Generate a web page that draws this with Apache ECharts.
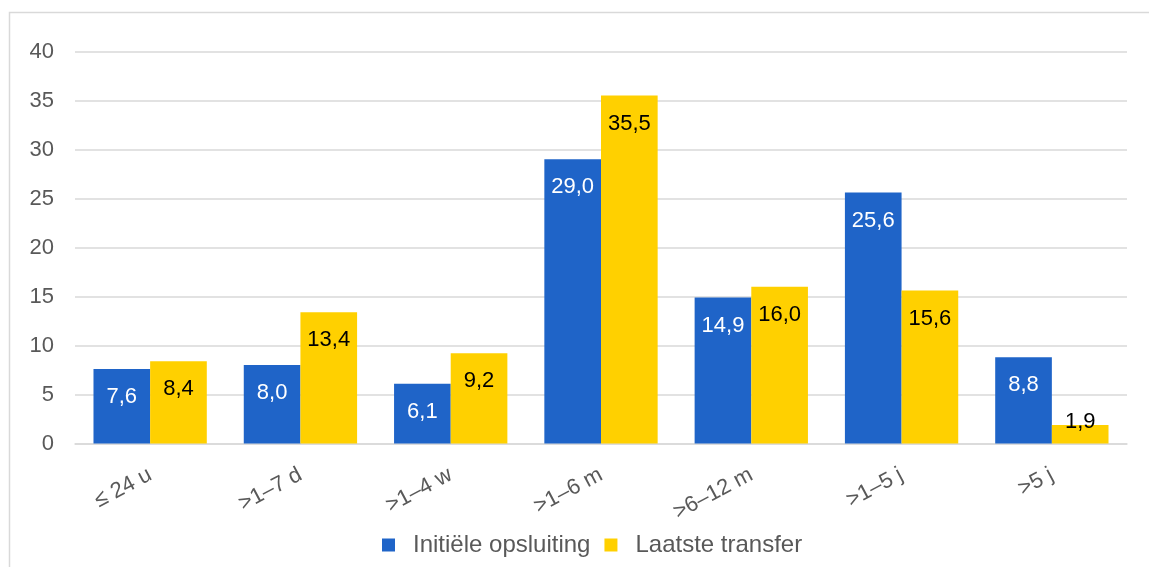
<!DOCTYPE html>
<html>
<head>
<meta charset="utf-8">
<script src="https://cdn.jsdelivr.net/npm/echarts@6/dist/echarts.min.js"></script>
<style>
  html, body { margin: 0; padding: 0; background: #fff; }
  #chart { width: 1149px; height: 567px; }
</style>
</head>
<body>
<div id="chart"></div>
<script>
// Duration categories and shares (%) per series
const categories = ['\u2264 24 u', '>1\u20137 d', '>1\u20134 w', '>1\u20136 m', '>6\u201312 m', '>1\u20135 j', '>5 j'];
const initieleOpsluiting = [7.6, 8.0, 6.1, 29.0, 14.9, 25.6, 8.8];
const laatsteTransfer = [8.4, 13.4, 9.2, 35.5, 16.0, 15.6, 1.9];
const yTicks = [0, 5, 10, 15, 20, 25, 30, 35, 40];

const FONT = 'Liberation Sans, Arial, sans-serif';
const GRAY = '#595959';
const fmt = v => v.toFixed(1).replace('.', ',');

// short bars get their label just above the bar
function labelled(values) {
  return values.map(v => {
    const item = { value: v };
    if (v < 3) {
      item.label = { position: 'top', distance: -8, color: '#000' };
    }
    return item;
  });
}

const chart = echarts.init(document.getElementById('chart'), null, { renderer: 'canvas' });
chart.setOption({
  animation: false,
  backgroundColor: '#fff',
  textStyle: { fontFamily: FONT },
  graphic: [{
    type: 'rect',
    shape: { x: 9.5, y: 12.5, width: 1300, height: 700 },
    style: { fill: 'none', stroke: '#d9d9d9', lineWidth: 1.5 },
    silent: true, z: -10
  }],
  grid: { left: 75, right: 22, top: 51.5, bottom: 123.5, containLabel: false },
  legend: {
    left: 377, top: 528,
    itemWidth: 13, itemHeight: 13, itemGap: 14,
    icon: 'rect',
    textStyle: { fontFamily: FONT, fontSize: 24, color: GRAY, padding: [0, 0, 0, 13] },
    data: ['Initiële opsluiting', 'Laatste transfer']
  },
  xAxis: {
    type: 'category',
    data: categories,
    axisLine: { show: true, lineStyle: { color: '#d9d9d9', width: 1.5 } },
    axisTick: { show: false },
    axisLabel: { rotate: 28, margin: 30, fontFamily: FONT, fontSize: 22, color: GRAY }
  },
  yAxis: {
    type: 'value',
    min: yTicks[0], max: yTicks[yTicks.length - 1], interval: 5,
    axisLine: { show: false },
    axisTick: { show: false },
    splitLine: { lineStyle: { color: '#d9d9d9', width: 1.5 } },
    axisLabel: { margin: 21, fontFamily: FONT, fontSize: 22, color: GRAY }
  },
  series: [
    {
      name: 'Initiële opsluiting',
      type: 'bar',
      data: labelled(initieleOpsluiting),
      itemStyle: { color: '#1F64C8' },
      barGap: '0%',
      barCategoryGap: '24.6%',
      label: { show: true, position: 'insideTop', distance: 17, color: '#fff',
               fontFamily: FONT, fontSize: 22, formatter: p => fmt(p.value) }
    },
    {
      name: 'Laatste transfer',
      type: 'bar',
      data: labelled(laatsteTransfer),
      itemStyle: { color: '#FFD000' },
      barGap: '0%',
      barCategoryGap: '24.6%',
      label: { show: true, position: 'insideTop', distance: 17, color: '#000',
               fontFamily: FONT, fontSize: 22, formatter: p => fmt(p.value) }
    }
  ]
});
</script>
</body>
</html>
